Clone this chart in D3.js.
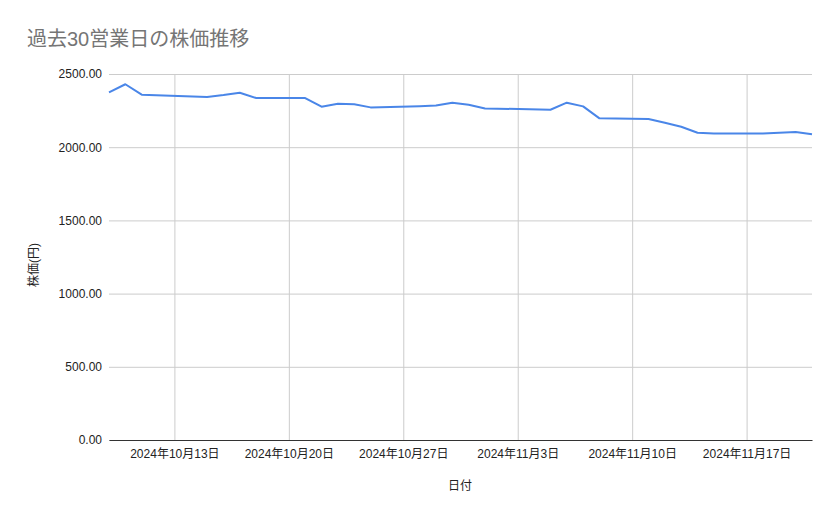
<!DOCTYPE html>
<html>
<head>
<meta charset="utf-8">
<script src="https://cdn.jsdelivr.net/npm/d3@7"></script>
<style>
  html, body { margin: 0; padding: 0; background: #fff; }
  svg { display: block; font-family: "Liberation Sans", Arial, "Noto Sans CJK JP", sans-serif; }
</style>
</head>
<body>
<svg id="chart" width="839" height="519"></svg>
<script>
const title = "過去30営業日の株価推移";
const xTitle = "日付";
const yTitle = "株価(円)";

const dates = [
  "2024-10-09","2024-10-10","2024-10-11","2024-10-15","2024-10-16","2024-10-17","2024-10-18",
  "2024-10-21","2024-10-22","2024-10-23","2024-10-24","2024-10-25",
  "2024-10-28","2024-10-29","2024-10-30","2024-10-31","2024-11-01",
  "2024-11-05","2024-11-06","2024-11-07","2024-11-08",
  "2024-11-11","2024-11-12","2024-11-13","2024-11-14","2024-11-15",
  "2024-11-18","2024-11-19","2024-11-20","2024-11-21"
];
const prices = [
  2375, 2430, 2359, 2343, 2356, 2372, 2336,
  2336, 2277, 2297, 2293, 2272,
  2280, 2285, 2304, 2290, 2265,
  2256, 2304, 2279, 2197,
  2193, 2167, 2140, 2099, 2094,
  2094, 2099, 2104, 2088
];
const xTicks = ["2024-10-13","2024-10-20","2024-10-27","2024-11-03","2024-11-10","2024-11-17"];
const yTicks = [0, 500, 1000, 1500, 2000, 2500];

const W = 839, H = 519;
const margin = { top: 74, right: 27, bottom: 79, left: 109 };
const iw = W - margin.left - margin.right;
const ih = H - margin.top - margin.bottom;

const parse = d3.utcParse("%Y-%m-%d");
const data = dates.map((d, i) => ({ date: parse(d), value: prices[i] }));

const x = d3.scaleUtc()
  .domain([parse(dates[0]), parse(dates[dates.length - 1])])
  .range([0, iw]);
const y = d3.scaleLinear().domain([0, 2500]).range([ih, 0]);

const svg = d3.select("#chart");

svg.append("text")
  .attr("x", 27).attr("y", 46)
  .attr("font-size", 20)
  .attr("fill", "#757575")
  .text(title);

const g = svg.append("g").attr("transform", `translate(${margin.left},${margin.top})`);

// horizontal grid
g.append("g")
  .call(d3.axisLeft(y).tickValues(yTicks).tickSize(-iw).tickFormat(""))
  .call(s => s.select(".domain").remove())
  .call(s => s.selectAll("line").attr("stroke", "#cccccc"));

// vertical grid
g.append("g")
  .attr("transform", `translate(0,${ih})`)
  .call(d3.axisBottom(x).tickValues(xTicks.map(parse)).tickSize(-ih).tickFormat(""))
  .call(s => s.select(".domain").remove())
  .call(s => s.selectAll("line").attr("stroke", "#cccccc"));

// y labels
g.append("g")
  .call(d3.axisLeft(y).tickValues(yTicks).tickSize(0).tickPadding(7).tickFormat(d3.format(".2f")))
  .call(s => s.select(".domain").remove())
  .call(s => s.selectAll("text").attr("font-size", 12).attr("fill", "#222")
      .attr("font-family", "\"Liberation Sans\", Arial, \"Noto Sans CJK JP\", sans-serif"));

// x labels
const fmt = d3.utcFormat("%Y年%-m月%-d日");
g.append("g")
  .attr("transform", `translate(0,${ih})`)
  .call(d3.axisBottom(x).tickValues(xTicks.map(parse)).tickSize(0).tickPadding(9).tickFormat(fmt))
  .call(s => s.select(".domain").attr("stroke", "#333").attr("stroke-width", 1.2))
  .call(s => s.selectAll("text").attr("font-size", 12).attr("fill", "#222")
      .attr("font-family", "\"Liberation Sans\", Arial, \"Noto Sans CJK JP\", sans-serif"));

// line
const line = d3.line().x(d => x(d.date)).y(d => y(d.value));
g.append("path")
  .datum(data)
  .attr("fill", "none")
  .attr("stroke", "#4a86e8")
  .attr("stroke-width", 2)
  .attr("stroke-linejoin", "round")
  .attr("d", line);

// axis titles
svg.append("text")
  .attr("x", margin.left + iw / 2 - 0.5).attr("y", 490)
  .attr("text-anchor", "middle")
  .attr("font-size", 12).attr("fill", "#222")
  .text(xTitle);

svg.append("text")
  .attr("transform", `translate(38,265) rotate(-90)`)
  .attr("text-anchor", "middle")
  .attr("font-size", 12).attr("fill", "#222")
  .text(yTitle);
</script>
</body>
</html>
